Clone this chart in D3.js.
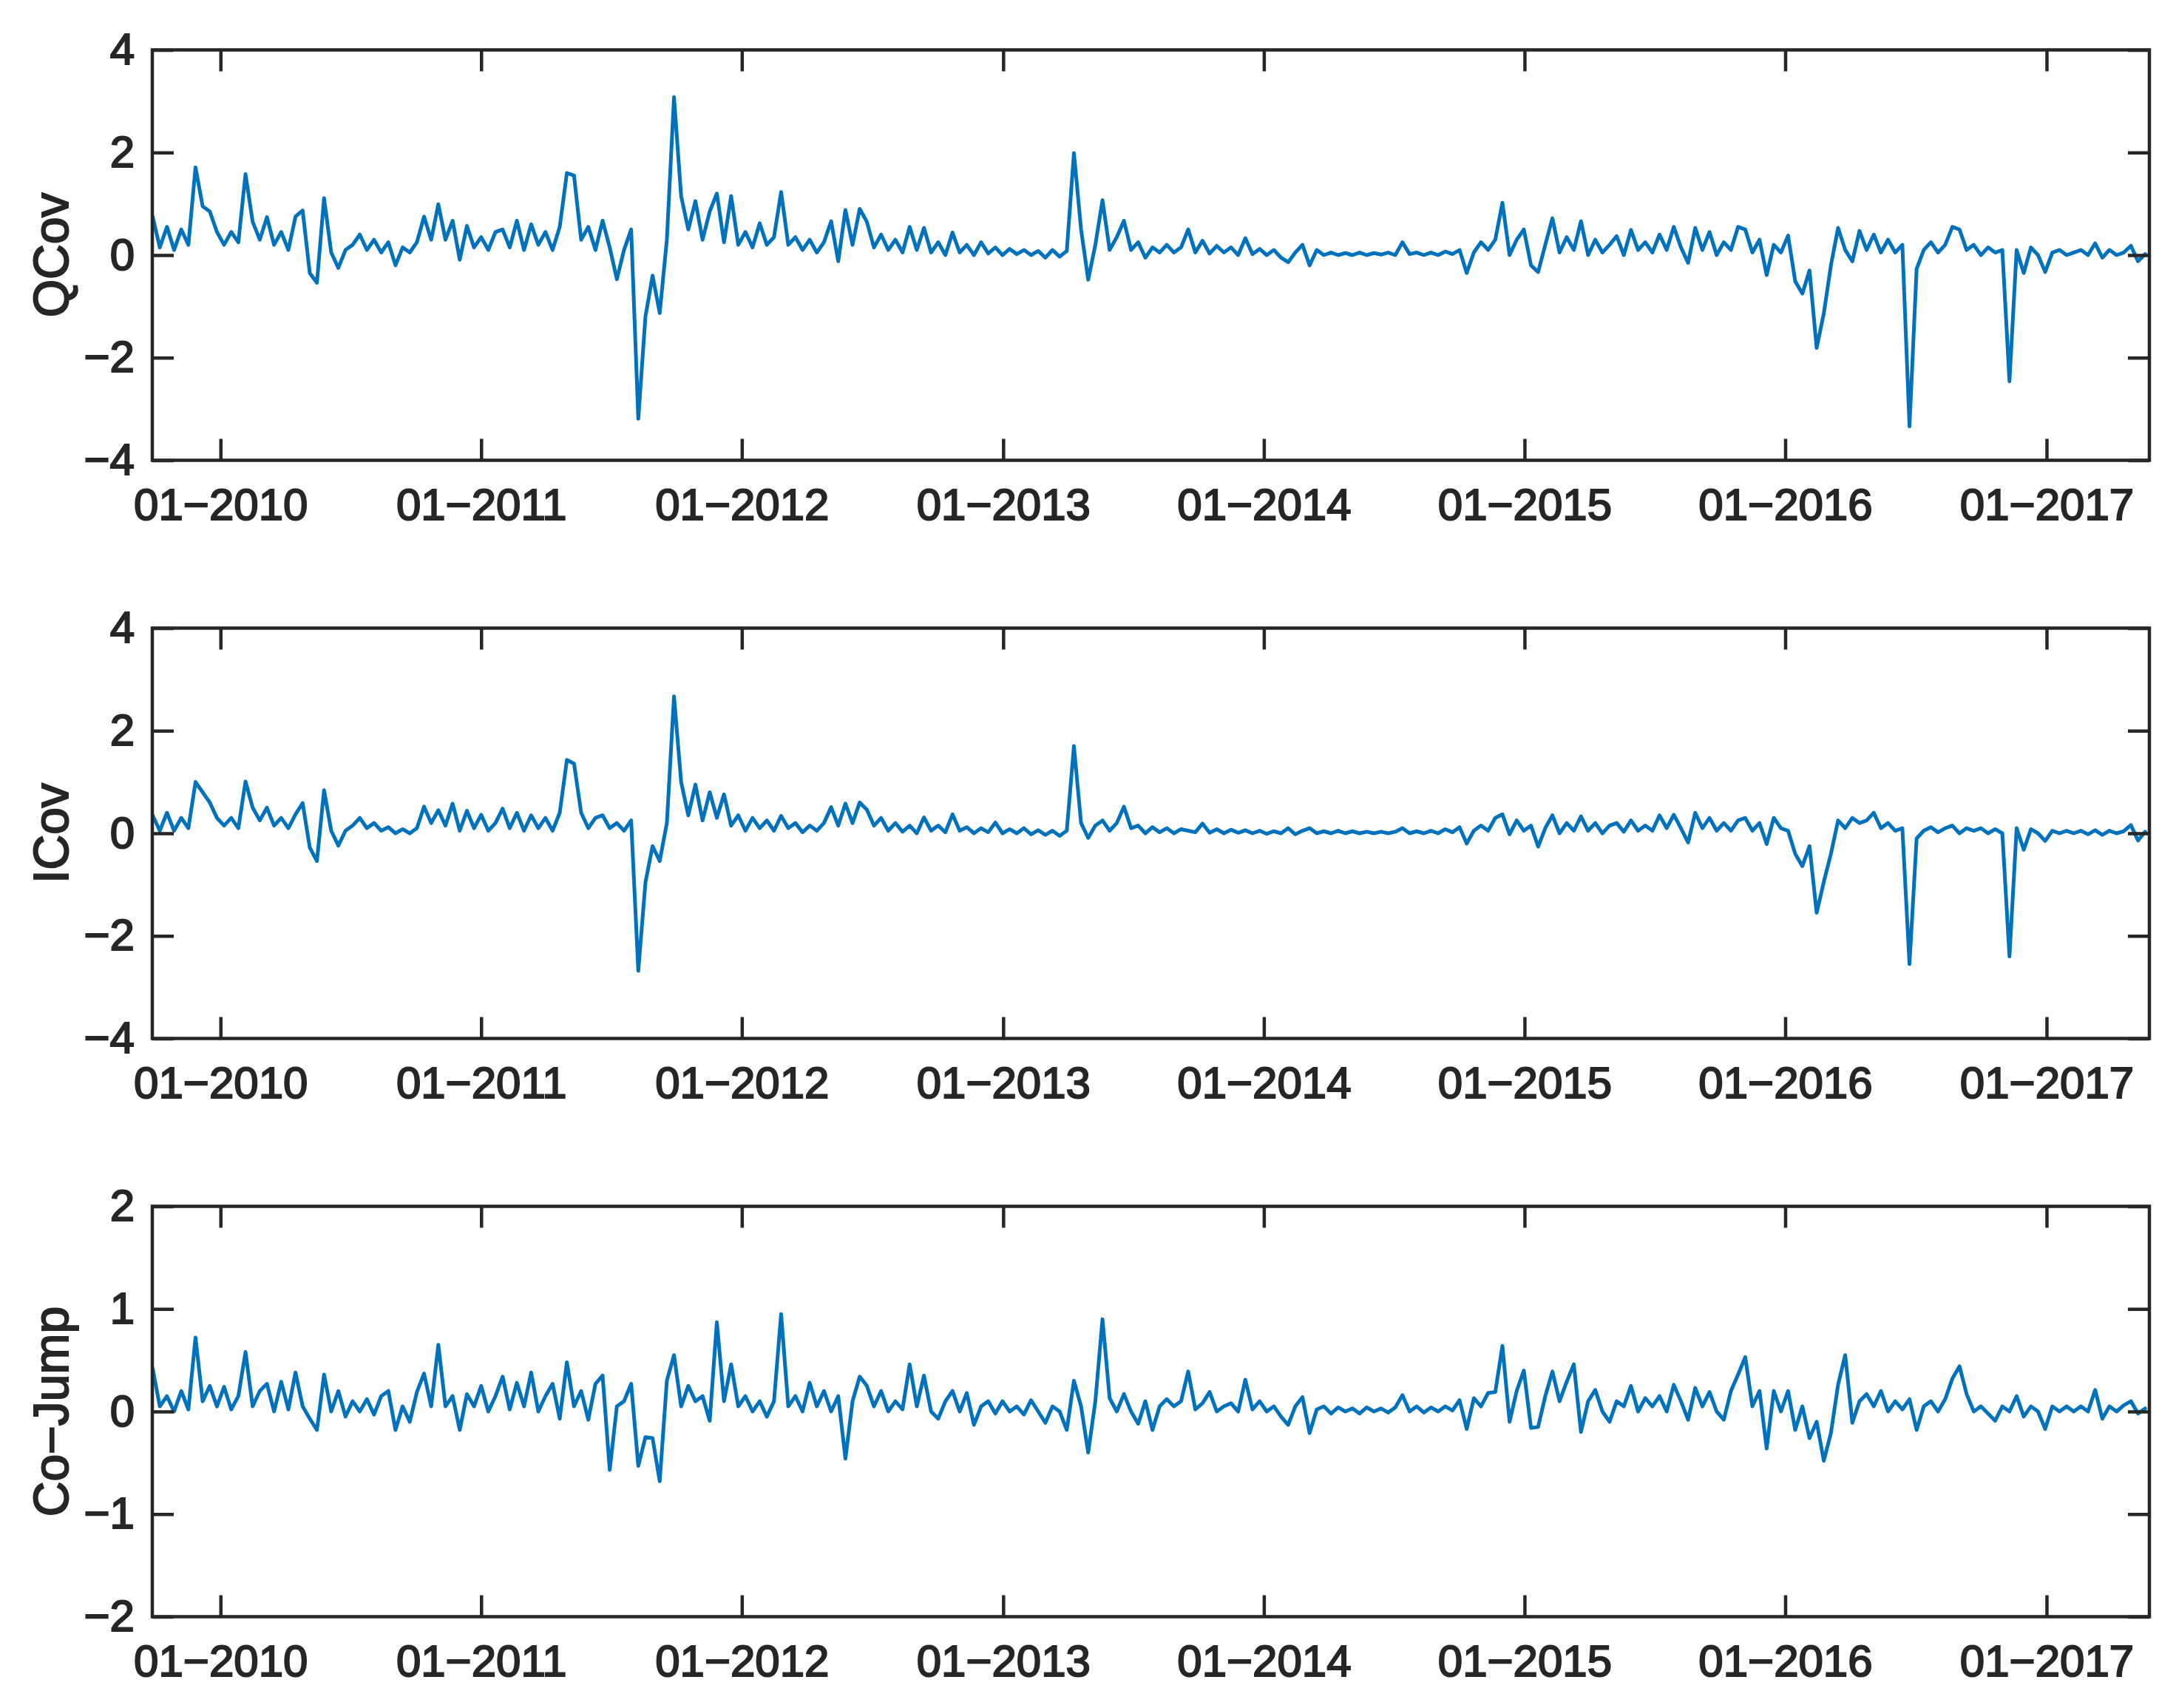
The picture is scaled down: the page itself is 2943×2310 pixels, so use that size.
<!DOCTYPE html>
<html>
<head>
<meta charset="utf-8">
<script src="https://cdn.jsdelivr.net/npm/d3@7/dist/d3.min.js"></script>
<style>
  html, body { margin: 0; padding: 0; background: #ffffff; }
  svg { display: block; }
  text { font-family: "Liberation Sans", Arial, Helvetica, sans-serif; fill: #262626; }
</style>
</head>
<body>
<svg id="chart" width="2943" height="2310"></svg>
<script>
// ---- data (10-day sampling of daily series) ----
const startDate = new Date(2009, 8, 28);
const stepDays = 10;

const qcov = [
  0.75, 0.15, 0.55, 0.1, 0.5, 0.2, 1.71, 0.95, 0.85, 0.45,
  0.2, 0.45, 0.25, 1.58, 0.65, 0.3, 0.74, 0.2, 0.45, 0.1,
  0.75, 0.87, -0.35, -0.54, 1.11, 0.05, -0.25, 0.1, 0.2, 0.4,
  0.1, 0.3, 0.05, 0.25, -0.2, 0.15, 0.05, 0.25, 0.75, 0.3,
  0.99, 0.3, 0.67, -0.09, 0.57, 0.15, 0.35, 0.1, 0.45, 0.5,
  0.15, 0.67, 0.1, 0.6, 0.2, 0.45, 0.1, 0.55, 1.6, 1.55,
  0.3, 0.55, 0.1, 0.67, 0.15, -0.47, 0.1, 0.5, -3.19, -1.2,
  -0.4, -1.13, 0.3, 3.08, 1.15, 0.5, 1.05, 0.3, 0.85, 1.2,
  0.25, 1.15, 0.2, 0.45, 0.15, 0.62, 0.2, 0.35, 1.23, 0.2,
  0.35, 0.1, 0.3, 0.05, 0.25, 0.66, -0.12, 0.88, 0.2, 0.9,
  0.65, 0.15, 0.4, 0.1, 0.3, 0.05, 0.55, 0.1, 0.53, 0.05,
  0.25, 0.0, 0.44, 0.05, 0.2, 0.0, 0.25, 0.03, 0.15, 0.0,
  0.12, 0.02, 0.1, 0.0, 0.08, -0.05, 0.1, -0.03, 0.08, 1.99,
  0.5, -0.48, 0.2, 1.07, 0.1, 0.35, 0.67, 0.1, 0.25, -0.05,
  0.15, 0.05, 0.2, 0.05, 0.15, 0.5, 0.05, 0.28, 0.03, 0.18,
  0.05, 0.15, 0.0, 0.33, 0.02, 0.12, 0.0, 0.1, -0.05, -0.14,
  0.05, 0.2, -0.2, 0.1, 0.0, 0.05, 0.0, 0.04, 0.0, 0.05,
  0.0, 0.04, 0.01, 0.05, 0.0, 0.25, 0.02, 0.05, 0.0, 0.05,
  0.0, 0.07, 0.02, 0.1, -0.35, 0.05, 0.25, 0.1, 0.3, 1.02,
  0.0, 0.3, 0.5, -0.2, -0.33, 0.2, 0.72, 0.05, 0.35, 0.1,
  0.66, 0.0, 0.3, 0.05, 0.2, 0.37, 0.0, 0.49, 0.1, 0.25,
  0.05, 0.4, 0.1, 0.55, 0.15, -0.15, 0.53, 0.1, 0.45, 0.0,
  0.25, 0.1, 0.55, 0.5, 0.05, 0.3, -0.39, 0.2, 0.05, 0.38,
  -0.51, -0.75, -0.3, -1.81, -1.14, -0.2, 0.53, 0.1, -0.12, 0.47,
  0.1, 0.4, 0.05, 0.3, 0.05, 0.2, -3.34, -0.27, 0.1, 0.25,
  0.05, 0.2, 0.55, 0.5, 0.1, 0.2, 0.0, 0.15, 0.05, 0.1,
  -2.46, 0.1, -0.35, 0.15, 0.0, -0.33, 0.05, 0.1, 0.0, 0.05,
  0.1, 0.0, 0.23, -0.05, 0.1, 0.0, 0.05, 0.18, -0.12, 0.02
];

const icov = [
  0.35, 0.05, 0.4, 0.05, 0.3, 0.1, 1.0, 0.8, 0.6, 0.3,
  0.15, 0.3, 0.1, 1.01, 0.5, 0.25, 0.5, 0.15, 0.3, 0.1,
  0.37, 0.59, -0.28, -0.54, 0.84, 0.05, -0.24, 0.05, 0.15, 0.3,
  0.1, 0.2, 0.05, 0.12, 0.0, 0.08, 0.0, 0.1, 0.52, 0.2,
  0.45, 0.15, 0.58, 0.05, 0.44, 0.1, 0.36, 0.05, 0.2, 0.48,
  0.1, 0.4, 0.05, 0.35, 0.1, 0.3, 0.05, 0.4, 1.43, 1.36,
  0.4, 0.1, 0.3, 0.35, 0.1, 0.2, 0.05, 0.25, -2.68, -0.96,
  -0.25, -0.54, 0.2, 2.67, 1.0, 0.35, 0.95, 0.25, 0.8, 0.3,
  0.76, 0.15, 0.35, 0.05, 0.3, 0.1, 0.25, 0.05, 0.34, 0.1,
  0.2, 0.02, 0.15, 0.05, 0.2, 0.51, 0.15, 0.58, 0.2, 0.6,
  0.46, 0.15, 0.3, 0.05, 0.2, 0.03, 0.15, 0.0, 0.31, 0.05,
  0.15, 0.02, 0.37, 0.05, 0.12, 0.0, 0.1, 0.02, 0.21, 0.0,
  0.08, 0.0, 0.1, -0.02, 0.06, -0.03, 0.05, -0.05, 0.05, 1.70,
  0.2, -0.09, 0.15, 0.25, 0.05, 0.2, 0.52, 0.1, 0.15, 0.0,
  0.12, 0.02, 0.1, 0.0, 0.08, 0.05, 0.02, 0.19, 0.01, 0.08,
  0.0, 0.07, 0.01, 0.06, 0.0, 0.05, -0.01, 0.04, 0.0, 0.1,
  -0.02, 0.05, 0.1, 0.0, 0.04, 0.0, 0.05, 0.0, 0.04, 0.0,
  0.03, 0.0, 0.03, 0.0, 0.03, 0.1, 0.0, 0.04, 0.0, 0.05,
  0.0, 0.08, 0.02, 0.12, -0.2, 0.05, 0.15, 0.05, 0.3, 0.37,
  -0.02, 0.25, 0.05, 0.15, -0.26, 0.1, 0.35, 0.0, 0.2, 0.05,
  0.33, 0.05, 0.2, 0.0, 0.15, 0.2, 0.03, 0.25, 0.05, 0.15,
  0.05, 0.35, 0.1, 0.36, 0.1, -0.18, 0.4, 0.1, 0.3, 0.05,
  0.2, 0.05, 0.25, 0.3, 0.05, 0.2, -0.21, 0.3, 0.1, 0.05,
  -0.4, -0.64, -0.25, -1.55, -0.95, -0.4, 0.25, 0.1, 0.3, 0.2,
  0.25, 0.4, 0.1, 0.2, 0.05, 0.1, -2.55, -0.1, 0.05, 0.12,
  0.02, 0.1, 0.15, 0.0, 0.1, 0.05, 0.1, 0.0, 0.08, 0.0,
  -2.4, 0.1, -0.32, 0.08, 0.0, -0.15, 0.05, 0.0, 0.05, 0.0,
  0.05, -0.02, 0.06, -0.03, 0.05, 0.0, 0.04, 0.16, -0.14, 0.03
];

const cojump = [
  0.42, 0.05, 0.15, 0.0, 0.2, 0.02, 0.72, 0.1, 0.25, 0.05,
  0.24, 0.02, 0.15, 0.58, 0.05, 0.2, 0.27, 0.0, 0.29, 0.02,
  0.38, 0.05, -0.07, -0.18, 0.36, 0.0, 0.2, -0.05, 0.1, 0.0,
  0.12, -0.03, 0.15, 0.2, -0.18, 0.05, -0.1, 0.19, 0.37, 0.05,
  0.65, 0.05, 0.15, -0.18, 0.17, 0.05, 0.25, 0.0, 0.15, 0.34,
  0.02, 0.28, 0.05, 0.38, 0.0, 0.15, 0.27, -0.07, 0.48, 0.05,
  0.2, -0.08, 0.27, 0.35, -0.57, 0.05, 0.1, 0.27, -0.53, -0.25,
  -0.26, -0.68, 0.3, 0.55, 0.05, 0.25, 0.1, 0.15, -0.09, 0.87,
  0.1, 0.46, 0.05, 0.15, 0.0, 0.1, -0.05, 0.1, 0.95, 0.05,
  0.15, 0.0, 0.28, 0.05, 0.2, 0.0, 0.15, -0.46, 0.1, 0.34,
  0.25, 0.05, 0.2, 0.0, 0.1, 0.02, 0.46, 0.05, 0.35, 0.0,
  -0.07, 0.1, 0.2, 0.0, 0.18, -0.13, 0.05, 0.1, -0.02, 0.1,
  0.0, 0.05, -0.03, 0.11, 0.0, -0.11, 0.05, 0.0, -0.18, 0.3,
  0.05, -0.4, 0.1, 0.9, 0.13, 0.0, 0.17, 0.0, -0.12, 0.1,
  -0.18, 0.05, 0.12, 0.05, 0.1, 0.39, 0.02, 0.08, 0.19, 0.0,
  0.05, 0.08, 0.0, 0.31, 0.02, 0.1, 0.0, 0.05, -0.05, -0.13,
  0.05, 0.14, -0.21, 0.02, 0.05, -0.02, 0.04, 0.0, 0.03, -0.02,
  0.04, 0.0, 0.03, -0.01, 0.04, 0.16, 0.0, 0.05, -0.01, 0.04,
  0.0, 0.05, 0.01, 0.11, -0.17, 0.13, 0.05, 0.18, 0.19, 0.64,
  -0.1, 0.2, 0.4, -0.16, -0.15, 0.15, 0.39, 0.1, 0.29, 0.46,
  -0.2, 0.1, 0.21, 0.0, -0.1, 0.1, 0.05, 0.25, 0.0, 0.13,
  0.05, 0.15, 0.0, 0.26, 0.1, -0.08, 0.23, 0.05, 0.19, 0.0,
  -0.08, 0.2, 0.36, 0.53, 0.05, 0.2, -0.36, 0.2, 0.0, 0.2,
  -0.18, 0.05, -0.26, -0.1, -0.48, -0.21, 0.26, 0.55, -0.11, 0.1,
  0.17, 0.05, 0.2, 0.0, 0.1, 0.02, 0.12, -0.18, 0.05, 0.1,
  0.0, 0.12, 0.32, 0.44, 0.17, 0.0, 0.05, -0.02, -0.09, 0.05,
  0.0, 0.15, -0.05, 0.05, 0.0, -0.17, 0.05, 0.0, 0.05, 0.0,
  0.05, 0.0, 0.21, -0.07, 0.05, 0.0, 0.06, 0.1, -0.02, 0.03
];

const xTickYears = [2010, 2011, 2012, 2013, 2014, 2015, 2016, 2017];
const xTickLabels = ["01\u22122010", "01\u22122011", "01\u22122012", "01\u22122013",
                     "01\u22122014", "01\u22122015", "01\u22122016", "01\u22122017"];
const panelLabels = ["QCov", "ICov", "Co\u2212Jump"];
const yDomains = [[-4, 4], [-4, 4], [-2, 2]];
const yTicksList = [[-4, -2, 0, 2, 4], [-4, -2, 0, 2, 4], [-2, -1, 0, 1, 2]];
const seriesList = [qcov, icov, cojump];

// ---- layout ----
const left = 206, right = 2907;
const panelTops = [67.5, 849.5, 1631.5];
const panelH = 555;
const axisColor = "#262626";
const lineColor = "#0072BD";
const tickLen = 29;
const axisW = 4.5;
const textStroke = 2;

const svg = d3.select("#chart");
svg.append("rect").attr("width", 2943).attr("height", 2310).attr("fill", "#fff");

const dates = qcov.map((_, i) => d3.timeDay.offset(startDate, i * stepDays));
const x = d3.scaleTime()
  .domain([new Date(2009, 8, 27, 12), new Date(2017, 4, 24, 22)])
  .range([left, right]);
const tickDates = xTickYears.map(y => new Date(y, 0, 1));
const fmtY = d => d < 0 ? "\u2212" + Math.abs(d) : String(d);

panelTops.forEach((top, p) => {
  const y = d3.scaleLinear().domain(yDomains[p]).range([top + panelH, top]);
  const g = svg.append("g");
  const clipId = "clip" + p;
  svg.append("clipPath").attr("id", clipId)
    .append("rect").attr("x", left).attr("y", top).attr("width", right - left).attr("height", panelH);

  // data line
  const data = seriesList[p].map((v, i) => ({ date: dates[i], v }));
  g.append("path")
    .datum(data)
    .attr("clip-path", `url(#${clipId})`)
    .attr("fill", "none")
    .attr("stroke", lineColor)
    .attr("stroke-width", 5)
    .attr("stroke-linejoin", "round")
    .attr("stroke-linecap", "round")
    .attr("d", d3.line().x(d => x(d.date)).y(d => y(d.v)));

  // axes
  const styleAxis = sel => {
    sel.select(".domain").remove();
    sel.selectAll(".tick line").attr("stroke", axisColor).attr("stroke-width", axisW);
    sel.selectAll(".tick text").attr("fill", axisColor).attr("font-size", 60)
      .attr("stroke", axisColor).attr("stroke-width", textStroke)
      .attr("font-family", '"Liberation Sans", Arial, Helvetica, sans-serif');
  };
  g.append("g").attr("transform", `translate(0,${top + panelH})`)
    .call(d3.axisBottom(x).tickValues(tickDates).tickFormat((d, i) => xTickLabels[i])
      .tickSizeInner(-tickLen).tickSizeOuter(0).tickPadding(38))
    .call(styleAxis);
  g.append("g").attr("transform", `translate(0,${top})`)
    .call(d3.axisTop(x).tickValues(tickDates).tickFormat("")
      .tickSizeInner(-tickLen).tickSizeOuter(0))
    .call(styleAxis);
  g.append("g").attr("transform", `translate(${left},0)`)
    .call(d3.axisLeft(y).tickValues(yTicksList[p]).tickFormat(fmtY)
      .tickSizeInner(-tickLen).tickSizeOuter(0).tickPadding(24))
    .call(styleAxis);
  g.append("g").attr("transform", `translate(${right},0)`)
    .call(d3.axisRight(y).tickValues(yTicksList[p]).tickFormat("")
      .tickSizeInner(-tickLen).tickSizeOuter(0))
    .call(styleAxis);

  // box
  g.append("rect")
    .attr("x", left).attr("y", top).attr("width", right - left).attr("height", panelH)
    .attr("fill", "none").attr("stroke", axisColor).attr("stroke-width", axisW);

  // y label
  g.append("text")
    .attr("transform", `translate(92,${top + panelH / 2}) rotate(-90)`)
    .attr("text-anchor", "middle")
    .attr("font-size", 66)
    .attr("fill", axisColor)
    .attr("stroke", axisColor)
    .attr("stroke-width", textStroke)
    .text(panelLabels[p]);
});
</script>
</body>
</html>
